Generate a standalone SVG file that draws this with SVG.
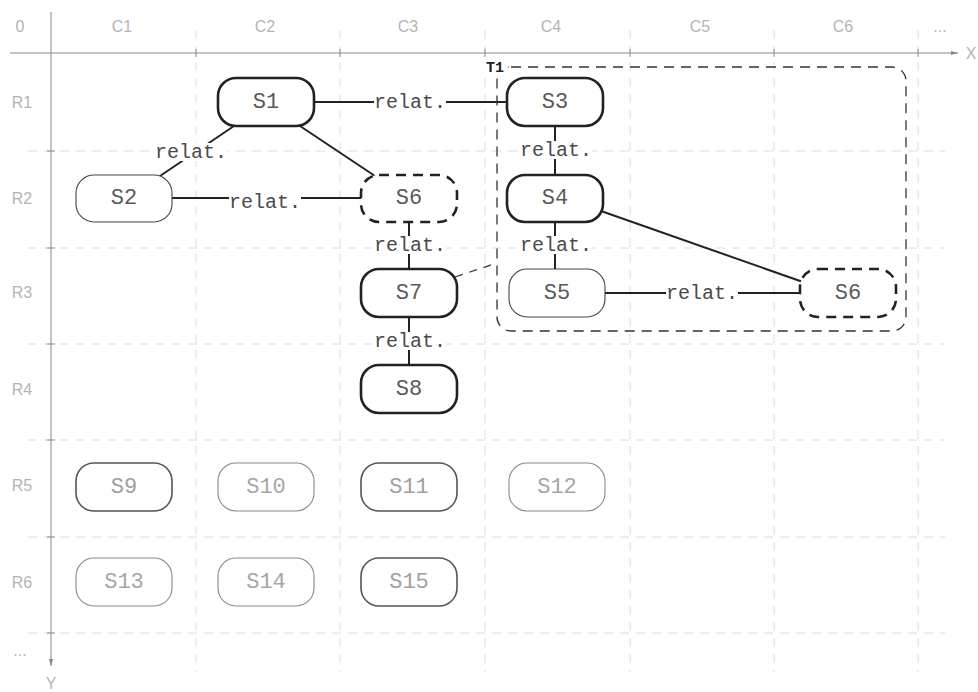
<svg xmlns="http://www.w3.org/2000/svg" width="978" height="692" viewBox="0 0 978 692">
<defs>
<style>
.axl{font-family:"Liberation Sans",Arial,sans-serif;font-size:16px;fill:#b4b4b4;text-anchor:middle}
.grid{stroke:#dcdcdc;stroke-width:1;stroke-dasharray:9 7;fill:none}
.axis{stroke:#888;stroke-width:1;fill:none}
.tick{stroke:#888;stroke-width:1}
.n rect{fill:#fff}
.n text{font-family:"Liberation Mono","Courier New",monospace;font-size:22px;text-anchor:middle;dominant-baseline:central}
.bold rect{stroke:#222;stroke-width:2.6}
.bold text{fill:#5a5a5a}
.thin rect{stroke:#444;stroke-width:1.1}
.thin text{fill:#5a5a5a}
.dash rect{stroke:#222;stroke-width:2.6;stroke-dasharray:10 7}
.dash text{fill:#5a5a5a}
.mid rect{stroke:#555;stroke-width:1.6}
.mid text{fill:#a0a0a0}
.light rect{stroke:#8a8a8a;stroke-width:1.1}
.light text{fill:#a6a6a6}
.edge{stroke:#222;stroke-width:2;fill:none}
.lbl{font-family:"Liberation Mono","Courier New",monospace;font-size:20px;fill:#4a4a4a;text-anchor:middle;dominant-baseline:central}
.lblbg{fill:#fff}
</style>
<marker id="arr" viewBox="0 0 10 10" refX="10" refY="5" markerWidth="7" markerHeight="7" orient="auto"><path d="M0,2 L10,5 L0,8 z" fill="#888"/></marker>
</defs>
<rect width="978" height="692" fill="#fff"/>
<g id="grid">
<path class="grid" d="M196,30V672M340,30V672M485,30V672M630,30V672M774,30V672M918,30V672"/>
<path class="grid" d="M28,151H945M28,248H945M28,344H945M28,440H945M28,537H945M28,633H945"/>
</g>
<g id="axes">
<line class="axis" x1="10" y1="53" x2="958" y2="53" marker-end="url(#arr)"/>
<line class="axis" x1="51" y1="12" x2="51" y2="666" marker-end="url(#arr)"/>
<path class="tick" d="M196,49V57M340,49V57M485,49V57M630,49V57M774,49V57M918,49V57"/>
<path class="tick" d="M47,151H55M47,248H55M47,344H55M47,440H55M47,537H55M47,633H55"/>
<text class="axl" x="20" y="32">0</text>
<text class="axl" x="122" y="32">C1</text>
<text class="axl" x="265" y="32">C2</text>
<text class="axl" x="408" y="32">C3</text>
<text class="axl" x="551" y="32">C4</text>
<text class="axl" x="700" y="32">C5</text>
<text class="axl" x="843" y="32">C6</text>
<text class="axl" x="940" y="32">...</text>
<text class="axl" x="971" y="59">X</text>
<text class="axl" x="22" y="108">R1</text>
<text class="axl" x="22" y="204">R2</text>
<text class="axl" x="22" y="298">R3</text>
<text class="axl" x="22" y="395">R4</text>
<text class="axl" x="22" y="491">R5</text>
<text class="axl" x="22" y="588">R6</text>
<text class="axl" x="20" y="656">...</text>
<text class="axl" x="51" y="689">Y</text>
</g>
<g id="T1">
<rect x="497" y="67" width="409" height="264" rx="14" fill="none" stroke="#333" stroke-width="1.3" stroke-dasharray="10 7"/>
<rect x="484" y="58" width="24" height="16" fill="#fff"/>
<text x="486" y="72" font-family="Liberation Mono,Courier New,monospace" font-size="15" font-weight="bold" fill="#222">T1</text>
</g>
<g id="connectors">
<line class="edge" x1="314" y1="102" x2="507" y2="102"/>
<line class="edge" x1="234" y1="126" x2="160" y2="176"/>
<line class="edge" x1="300" y1="126" x2="375" y2="176"/>
<line class="edge" x1="172" y1="198" x2="361" y2="198"/>
<line class="edge" x1="409" y1="222" x2="409" y2="269"/>
<line class="edge" x1="409" y1="317" x2="409" y2="365"/>
<line class="edge" x1="555" y1="126" x2="555" y2="175"/>
<line class="edge" x1="555" y1="222" x2="555" y2="269"/>
<line class="edge" x1="601" y1="211" x2="803" y2="282"/>
<line class="edge" x1="605" y1="293" x2="800" y2="293"/>
<line x1="455" y1="277" x2="497" y2="263" stroke="#333" stroke-width="1.3" stroke-dasharray="8 7"/>
<rect class="lblbg" x="374" y="93" width="72" height="18"/>
<text class="lbl" x="410" y="102">relat.</text>
<rect class="lblbg" x="155" y="143" width="72" height="18"/>
<text class="lbl" x="191" y="152">relat.</text>
<rect class="lblbg" x="229" y="193" width="72" height="18"/>
<text class="lbl" x="265" y="202">relat.</text>
<rect class="lblbg" x="374" y="236" width="72" height="18"/>
<text class="lbl" x="410" y="245">relat.</text>
<rect class="lblbg" x="374" y="332" width="72" height="18"/>
<text class="lbl" x="410" y="341">relat.</text>
<rect class="lblbg" x="520" y="141" width="72" height="18"/>
<text class="lbl" x="556" y="150">relat.</text>
<rect class="lblbg" x="520" y="236" width="72" height="18"/>
<text class="lbl" x="556" y="245">relat.</text>
<rect class="lblbg" x="666" y="284" width="72" height="18"/>
<text class="lbl" x="702" y="293">relat.</text>
</g>
<g id="S1" class="n bold"><rect x="218" y="78" width="96" height="48" rx="18"/><text x="266" y="102">S1</text></g>
<g id="S2" class="n thin"><rect x="76" y="175" width="96" height="47" rx="18"/><text x="124" y="198">S2</text></g>
<g id="S6a" class="n dash"><rect x="361" y="175" width="96" height="47" rx="18"/><text x="409" y="198">S6</text></g>
<g id="S3" class="n bold"><rect x="507" y="78" width="96" height="48" rx="18"/><text x="555" y="102">S3</text></g>
<g id="S4" class="n bold"><rect x="507" y="175" width="96" height="47" rx="18"/><text x="555" y="198">S4</text></g>
<g id="S5" class="n thin"><rect x="509" y="269" width="96" height="48" rx="18"/><text x="557" y="293">S5</text></g>
<g id="S6b" class="n dash"><rect x="800" y="269" width="96" height="48" rx="18"/><text x="848" y="293">S6</text></g>
<g id="S7" class="n bold"><rect x="361" y="269" width="96" height="48" rx="18"/><text x="409" y="293">S7</text></g>
<g id="S8" class="n bold"><rect x="361" y="365" width="96" height="48" rx="18"/><text x="409" y="389">S8</text></g>
<g id="S9" class="n mid"><rect x="76" y="463" width="96" height="48" rx="18"/><text x="124" y="487">S9</text></g>
<g id="S10" class="n light"><rect x="218" y="463" width="96" height="48" rx="18"/><text x="266" y="487">S10</text></g>
<g id="S11" class="n mid"><rect x="361" y="463" width="96" height="48" rx="18"/><text x="409" y="487">S11</text></g>
<g id="S12" class="n light"><rect x="509" y="463" width="96" height="48" rx="18"/><text x="557" y="487">S12</text></g>
<g id="S13" class="n light"><rect x="76" y="558" width="96" height="48" rx="18"/><text x="124" y="582">S13</text></g>
<g id="S14" class="n light"><rect x="218" y="558" width="96" height="48" rx="18"/><text x="266" y="582">S14</text></g>
<g id="S15" class="n mid"><rect x="361" y="558" width="96" height="48" rx="18"/><text x="409" y="582">S15</text></g>
</svg>
